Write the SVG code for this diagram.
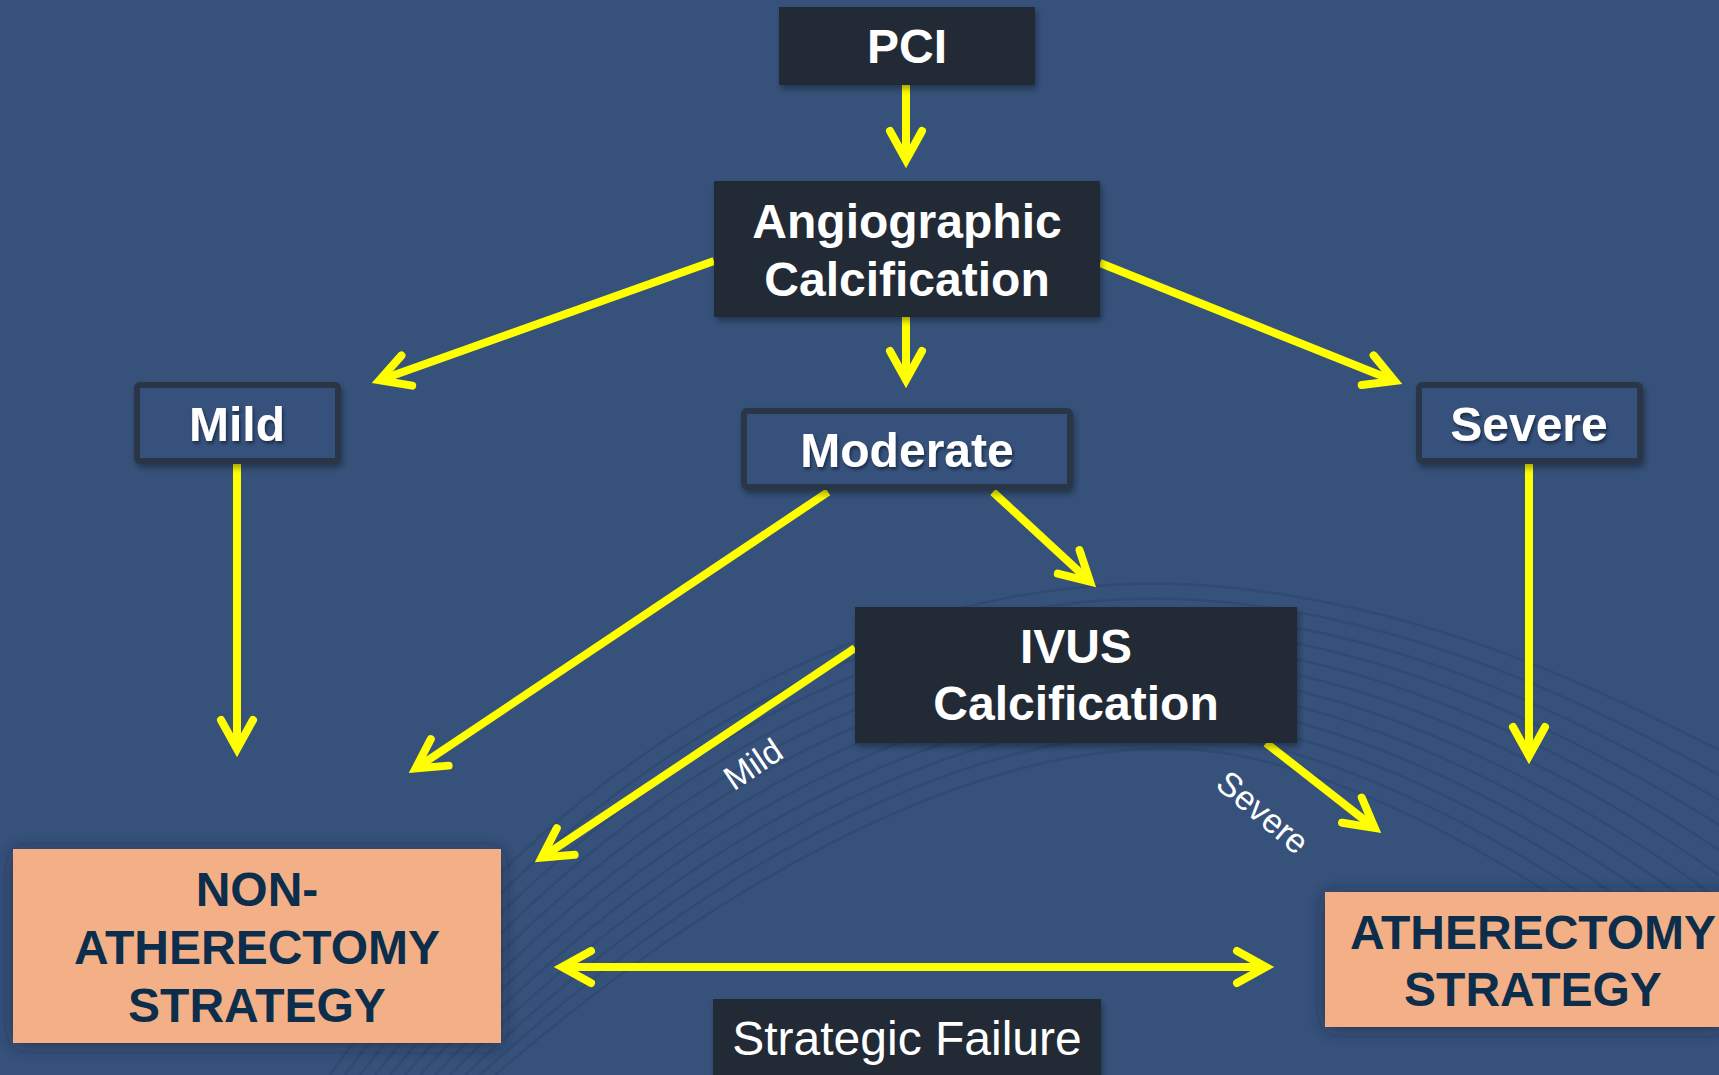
<svg xmlns="http://www.w3.org/2000/svg" width="1719" height="1075" viewBox="0 0 1719 1075">
  <style>
    .bg { fill: #36527b; }
    .dark { fill: #232a35; }
    .outline { fill: #35517b; stroke: #2b3646; stroke-width: 6; }
    .orange { fill: #f3b086; }
    .wt { font-family: "Liberation Sans", Arial, sans-serif; font-weight: bold; font-size: 48px; fill: #ffffff; text-anchor: middle; }
    .wr { font-family: "Liberation Sans", Arial, sans-serif; font-weight: normal; font-size: 48px; fill: #ffffff; text-anchor: middle; }
    .nt { font-family: "Liberation Sans", Arial, sans-serif; font-weight: bold; font-size: 48px; fill: #0c2d4b; text-anchor: middle; }
    .lbl { font-family: "Liberation Sans", Arial, sans-serif; font-size: 34px; fill: #ffffff; text-anchor: middle; }
    .conn { stroke: #ffff00; stroke-width: 8; fill: none; }
    .wave { fill: none; stroke: #2a4369; stroke-width: 2.5; opacity: 0.5; }
  </style>
  <defs>
    <marker id="ah" markerUnits="userSpaceOnUse" markerWidth="60" markerHeight="60" viewBox="-45 -30 60 60" refX="0" refY="0" orient="auto-start-reverse" overflow="visible">
      <path d="M-29,-16 L0,0 L-29,16" fill="none" stroke="#ffff00" stroke-width="8" stroke-linecap="round" stroke-linejoin="miter"/>
    </marker>
    <filter id="sh" x="-10%" y="-20%" width="120%" height="150%">
      <feDropShadow dx="2" dy="4" stdDeviation="3" flood-color="#000000" flood-opacity="0.35"/>
    </filter>
    <filter id="glow" x="-15%" y="-25%" width="130%" height="150%">
      <feDropShadow dx="0" dy="2" stdDeviation="9" flood-color="#1a2230" flood-opacity="0.6"/>
    </filter>
    <filter id="tsh" x="-10%" y="-20%" width="120%" height="150%">
      <feDropShadow dx="1.5" dy="2.5" stdDeviation="1.5" flood-color="#000000" flood-opacity="0.45"/>
    </filter>
  </defs>

  <rect class="bg" x="0" y="0" width="1719" height="1075"/>

  <g id="background-waves">
    <path class="wave" d="M330,1075 C620,660 980,570 1200,585 S1600,690 1719,750"/>
    <path class="wave" d="M345,1075 C635,675 985,585 1200,600 S1600,710 1719,775"/>
    <path class="wave" d="M360,1075 C650,690 990,600 1200,615 S1600,730 1719,800"/>
    <path class="wave" d="M375,1075 C665,705 995,615 1200,630 S1600,750 1719,825"/>
    <path class="wave" d="M390,1075 C680,720 1000,630 1200,645 S1600,770 1719,850"/>
    <path class="wave" d="M405,1075 C695,735 1005,645 1200,660 S1600,790 1719,875"/>
    <path class="wave" d="M420,1075 C710,750 1010,660 1200,675 S1600,810 1719,900"/>
    <path class="wave" d="M435,1075 C725,765 1015,675 1200,690 S1600,830 1719,925"/>
    <path class="wave" d="M450,1075 C740,780 1020,690 1200,705 S1600,850 1719,950"/>
    <path class="wave" d="M465,1075 C755,795 1025,705 1200,720 S1600,870 1719,975"/>
    <path class="wave" d="M480,1075 C770,810 1030,720 1200,735 S1600,890 1719,1000"/>
    <path class="wave" d="M495,1075 C785,825 1035,735 1200,750 S1600,910 1719,1025"/>
  </g>

  <g id="connectors">
    <line class="conn" x1="906" y1="85" x2="906" y2="160" marker-end="url(#ah)"/>
    <line class="conn" x1="714" y1="261" x2="379.5" y2="380.3" marker-end="url(#ah)"/>
    <line class="conn" x1="906" y1="317" x2="906" y2="380" marker-end="url(#ah)"/>
    <line class="conn" x1="1100" y1="263" x2="1394.6" y2="381" marker-end="url(#ah)"/>
    <line class="conn" x1="237" y1="464" x2="237" y2="749" marker-end="url(#ah)"/>
    <line class="conn" x1="1529" y1="464" x2="1529" y2="756" marker-end="url(#ah)"/>
    <line class="conn" x1="993" y1="492" x2="1090" y2="581.6" marker-end="url(#ah)"/>
    <line class="conn" x1="828" y1="492" x2="415.6" y2="768.5" marker-end="url(#ah)"/>
    <line class="conn" x1="855" y1="648" x2="541.6" y2="857.6" marker-end="url(#ah)"/>
    <line class="conn" x1="1266" y1="743" x2="1374.7" y2="828" marker-end="url(#ah)"/>
    <line class="conn" x1="562" y1="967" x2="1266" y2="967" marker-start="url(#ah)" marker-end="url(#ah)"/>
    <text class="lbl" x="753" y="776" transform="rotate(-34 753 764)">Mild</text>
    <text class="lbl" x="1263" y="824" transform="rotate(40 1263 812)">Severe</text>
  </g>

  <g id="node-pci">
    <rect class="dark" x="779" y="7" width="256" height="78" filter="url(#sh)"/>
    <text class="wt" x="907" y="63">PCI</text>
  </g>

  <g id="node-angiographic">
    <rect class="dark" x="714" y="181" width="386" height="136" filter="url(#sh)"/>
    <text class="wt" x="907" y="238">Angiographic</text>
    <text class="wt" x="907" y="296">Calcification</text>
  </g>

  <g id="node-mild">
    <rect class="outline" x="137" y="385" width="201" height="76" rx="3" filter="url(#sh)"/>
    <text class="wt" x="237" y="441" filter="url(#tsh)">Mild</text>
  </g>

  <g id="node-moderate">
    <rect class="outline" x="744" y="411" width="326" height="76" rx="3" filter="url(#sh)"/>
    <text class="wt" x="907" y="467" filter="url(#tsh)">Moderate</text>
  </g>

  <g id="node-severe">
    <rect class="outline" x="1419" y="385" width="221" height="76" rx="3" filter="url(#sh)"/>
    <text class="wt" x="1529" y="441" filter="url(#tsh)">Severe</text>
  </g>

  <g id="node-ivus">
    <rect class="dark" x="855" y="607" width="442" height="136" filter="url(#sh)"/>
    <text class="wt" x="1076" y="663">IVUS</text>
    <text class="wt" x="1076" y="720">Calcification</text>
  </g>

  <g id="node-non-atherectomy">
    <rect class="orange" x="13" y="849" width="488" height="194" filter="url(#glow)"/>
    <text class="nt" x="257" y="906">NON-</text>
    <text class="nt" x="257" y="964">ATHERECTOMY</text>
    <text class="nt" x="257" y="1022">STRATEGY</text>
  </g>

  <g id="node-atherectomy">
    <rect class="orange" x="1325" y="892" width="400" height="135" filter="url(#glow)"/>
    <text class="nt" x="1533" y="949">ATHERECTOMY</text>
    <text class="nt" x="1533" y="1006">STRATEGY</text>
  </g>

  <g id="node-strategic-failure">
    <rect class="dark" x="713" y="999" width="388" height="90" filter="url(#sh)"/>
    <text class="wr" x="907" y="1055">Strategic Failure</text>
  </g>
</svg>
